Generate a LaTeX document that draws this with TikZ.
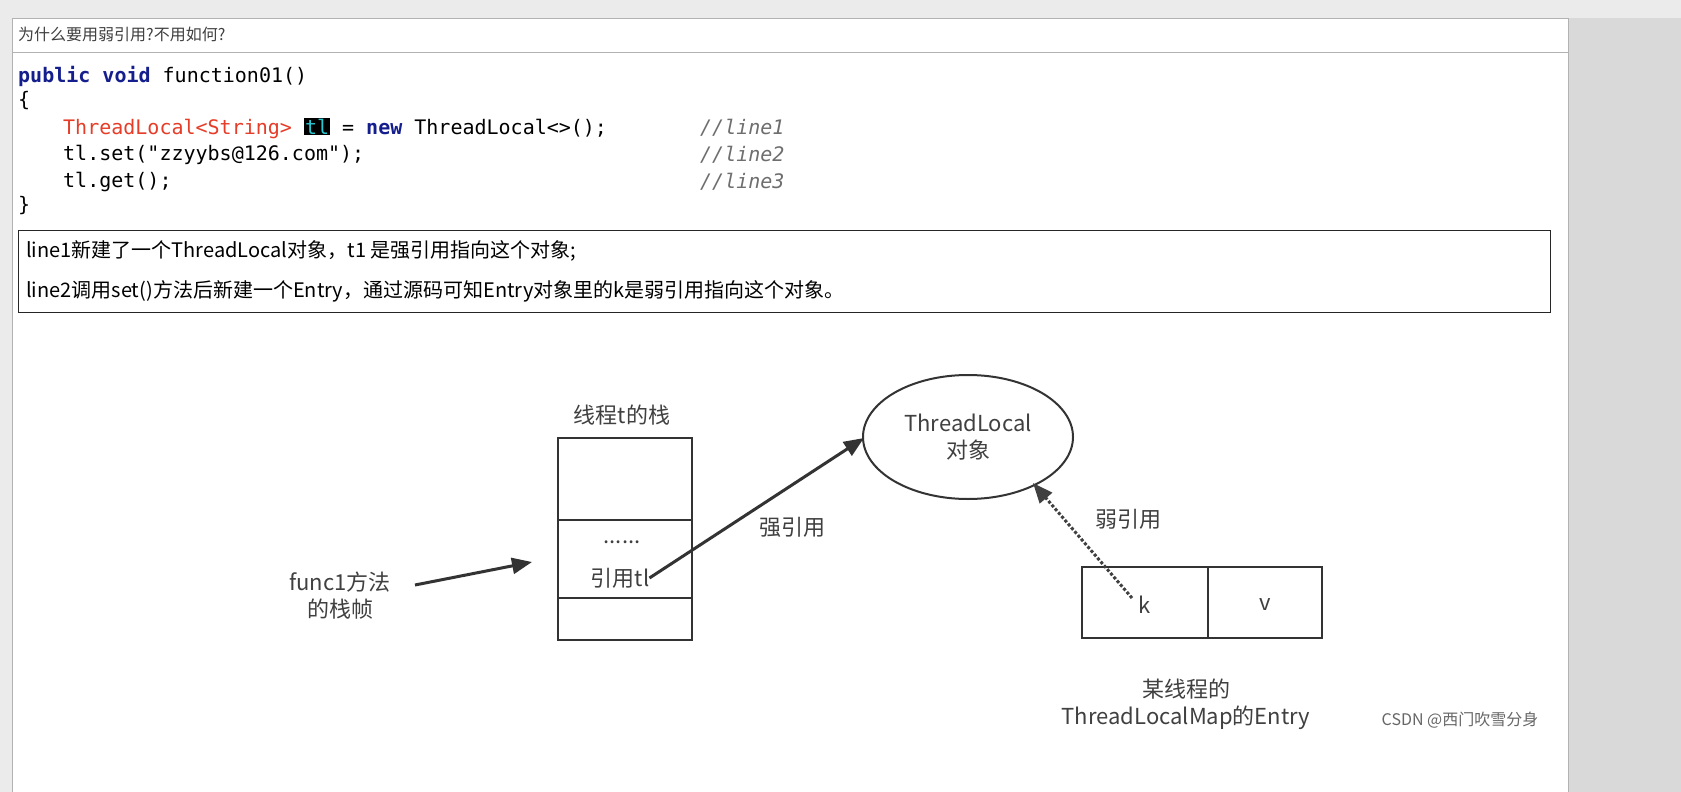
\documentclass[tikz,border=0pt]{standalone}
\usepackage{fontspec}
\setmainfont{Noto Sans CJK SC}
\newfontfamily\codefont{DejaVu Sans Mono}
\newfontfamily\cjk{Noto Sans CJK SC}
\usetikzlibrary{arrows.meta}
\definecolor{kwblue}{RGB}{20,30,140}
\definecolor{tlred}{RGB}{230,60,40}
\definecolor{tlcyan}{RGB}{40,200,210}
\definecolor{cmtgray}{RGB}{110,110,110}
\tikzset{
  codeline/.style={anchor=west, inner sep=0pt, font=\codefont\fontsize{20}{20}\selectfont},
  cmtline/.style={codeline, text=cmtgray, font=\codefont\itshape\fontsize{20}{20}\selectfont},
  noteline/.style={anchor=west, inner sep=0pt, font=\cjk\fontsize{20}{20}\selectfont},
  figlabel/.style={inner sep=0pt, text=black!75, font=\cjk\fontsize{22}{27}\selectfont, align=center},
  strongarrow/.style={line width=3pt, draw=black!80, -{Triangle[length=20pt,width=16pt]}},
  weakarrow/.style={line width=3pt, draw=black!75, dotted, -{Triangle[length=20pt,width=16pt]}}
}
\begin{document}
\begin{tikzpicture}[x=1pt,y=-1pt]
\useasboundingbox (0,0) rectangle (1681,792);
% window frame
\fill[black!8] (0,0) rectangle (1681,792);
\fill[white] (12,18) rectangle (1568,792);
\fill[black!15] (1568,18) rectangle (1681,792);
\draw[black!30] (12,18) rectangle (1568,792);
\draw[black!30] (12,52) -- (1568,52);
\node[noteline, text=black!75, font=\cjk\fontsize{16}{16}\selectfont] (title) at (18,34) {为什么要用弱引用?不用如何?};
% code
\node[codeline] (c1) at (18,76) {\textcolor{kwblue}{\bfseries public void} function01()};
\node[codeline] (c2) at (18,101) {\{};
\node[codeline] (c3) at (63,128) {\textcolor{tlred}{ThreadLocal<String>} {\setlength\fboxsep{1pt}\colorbox{black}{\textcolor{tlcyan}{tl}}} = \textcolor{kwblue}{\bfseries new} ThreadLocal<>();};
\node[codeline] (c4) at (63,155) {tl.set("zzyybs@126.com");};
\node[codeline] (c5) at (63,182) {tl.get();};
\node[codeline] (c6) at (18,206) {\}};
\node[cmtline] (m1) at (700,128) {//line1};
\node[cmtline] (m2) at (700,155) {//line2};
\node[cmtline] (m3) at (700,182) {//line3};
% notes
\draw[black!85, line width=1pt] (18,230) rectangle (1550,312);
\node[noteline] (n1) at (26,251) {line1新建了一个ThreadLocal对象，t1 是强引用指向这个对象;};
\node[noteline] (n2) at (26,291) {line2调用set()方法后新建一个Entry，通过源码可知Entry对象里的k是弱引用指向这个对象。};
% stack
\draw[black!80, line width=1.6pt] (558,438) rectangle (692,640);
\draw[black!80, line width=1.6pt] (558,520) -- (692,520);
\draw[black!80, line width=1.6pt] (558,598) -- (692,598);
\node[figlabel] (stackname) at (622,415) {线程t的栈};
\node[figlabel] (dots) at (622,542) {......};
\node[figlabel] (ref) at (620,578) {引用tl};
% ThreadLocal object
\draw[black!80, line width=2pt] (968,437) ellipse [x radius=105, y radius=62];
\node[figlabel] (tlobj) at (968,437) {ThreadLocal\\对象};
% entry
\draw[black!80, line width=2pt] (1082,567) rectangle (1322,638);
\draw[black!80, line width=2pt] (1208,567) -- (1208,638);
\node[figlabel] (k) at (1145,605) {k};
\node[figlabel] (v) at (1265,605) {v};
\node[figlabel] (entryname) at (1186,704) {某线程的\\ThreadLocalMap的Entry};
% frame label
\node[figlabel] (frame) at (340,596) {func1方法\\的栈帧};
\coordinate (frameend) at (415,585);
\coordinate (stackin) at (532,562);
\coordinate (tlin) at (864,438);
\coordinate (kout) at (1132,598);
\coordinate (tlweak) at (1033,483);
\draw[strongarrow] (frameend) -- (stackin);
\draw[strongarrow] (ref.east) -- (tlin);
\draw[weakarrow] (kout) -- (tlweak);
\node[figlabel] (strong) at (792,527) {强引用};
\node[figlabel] (weak) at (1128,519) {弱引用};
% watermark
\node[figlabel, text=black!60, font=\cjk\fontsize{16}{16}\selectfont] (mark) at (1460,720) {CSDN @西门吹雪分身};
\end{tikzpicture}
\end{document}
